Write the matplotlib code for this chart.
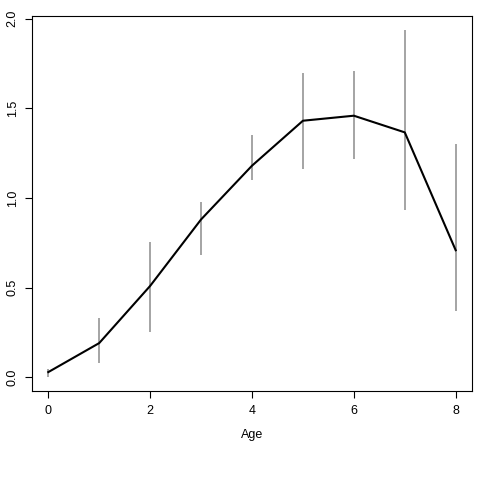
import matplotlib
matplotlib.use("Agg")
import matplotlib.pyplot as plt
import numpy as np

age = [0, 1, 2, 3, 4, 5, 6, 7, 8]
mean = [0.028, 0.19, 0.509, 0.88, 1.18, 1.431, 1.459, 1.366, 0.708]
lower = [0.0, 0.076, 0.25, 0.68, 1.10, 1.163, 1.217, 0.933, 0.368]
upper = [0.046, 0.33, 0.754, 0.98, 1.354, 1.70, 1.706, 1.938, 1.299]
xticks = [0, 2, 4, 6, 8]
yticks = [0.0, 0.5, 1.0, 1.5, 2.0]
xlabel = "Age"

plt.rcParams['font.family'] = ['Liberation Sans', 'DejaVu Sans']
fig = plt.figure(figsize=(4.8, 4.8), dpi=100)
ax = fig.add_axes([32/480, 89/480, 440/480, 375/480])

ax.vlines(age, lower, upper, colors='#8c8c8c', linewidth=1.1)
ax.plot(age, mean, color='black', linewidth=1.5)

xr = max(age) - min(age)
ax.set_xlim(min(age) - 0.04*xr, max(age) + 0.04*xr)
ymin, ymax = min(lower), max(upper)
yr = ymax - ymin
ax.set_ylim(ymin - 0.04*yr, ymax + 0.04*yr)

ax.set_xticks(xticks)
ax.set_xticklabels([str(t) for t in xticks])
ax.set_yticks(yticks)
ax.set_yticklabels([f"{t:.1f}" for t in yticks], rotation=90, va='center')
ax.tick_params(axis='both', direction='out', length=5, width=0.8, labelsize=9, colors='black')
ax.tick_params(axis='x', pad=5)
ax.tick_params(axis='y', pad=4.5)
for s in ax.spines.values():
    s.set_linewidth(0.8)
    s.set_color('black')
ax.set_xlabel(xlabel, fontsize=9, labelpad=9)

fig.savefig("out.png", dpi=100)
